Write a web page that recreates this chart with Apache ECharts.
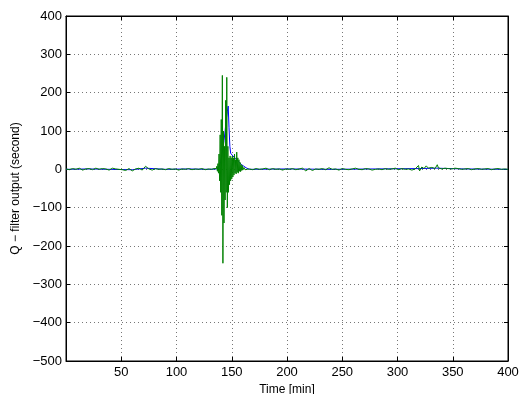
<!DOCTYPE html>
<html>
<head>
<meta charset="utf-8">
<script src="https://cdn.jsdelivr.net/npm/echarts@6/dist/echarts.min.js"></script>
<style>
  html, body { margin: 0; padding: 0; background: #fff; }
  #chart { width: 519px; height: 394px; }
</style>
</head>
<body>
<div id="chart"></div>
<script>
// Q filter output, [time (min), value (s)]
const bluePoints = [
  [0, 0], [20, 1], [40, 0], [60, -1], [72, 3], [90, 0], [110, 1], [130, 0], [136, 1],
  [138, 4], [139, 10], [140, 20], [141, 35], [142, 55], [143, 75], [144, 100],
  [145, 130], [146, 150], [146.8, 165], [147.5, 110], [148.3, 60], [149, 42],
  [150, 38], [151, 35], [152, 32], [153, 30], [154, 27], [155, 24], [156, 21],
  [157, 18], [158, 15], [159, 12], [160, 10], [161, 8], [162, 6], [163, 4],
  [164, 2], [166, 0],
  [200, 1], [240, 0], [280, 1], [320, 2], [335, 3], [360, 1], [400, 0]
];

const greenPoints = [
  [0, 1], [3, -1], [6, 2], [9, 0], [12, 3], [15, -2], [18, 1], [21, 2], [24, -1],
  [27, 3], [30, 0], [33, 2], [36, 1], [39, -2], [42, 3], [45, 1], [48, 0], [51, -1],
  [54, -3], [57, 2], [60, -4], [63, 1], [66, 3], [69, -2], [72, 8], [75, 1], [78, -2],
  [81, 2], [84, 0], [87, 1], [90, -1], [93, 2], [96, 0], [99, 1], [102, -2], [105, 1],
  [108, 0], [111, 2], [114, -1], [117, 1], [120, 0], [123, 2], [126, -1], [129, 1],
  [132, 0], [134, 2], [135, 1],
  [136, 2], [136.5, 8], [137, -5], [137.5, 15], [138, -10], [138.5, 40], [139, -30],
  [139.5, 90], [140, -60], [140.5, 130], [141, -120], [141.5, 245], [142, -245],
  [142.5, 100], [143, -140], [143.5, 60], [144, -80], [144.5, 180], [145, -60],
  [145.5, 240], [146, -100], [146.5, 60], [147, -60], [147.5, 30], [148, -40],
  [148.5, 35], [149, -30], [149.5, 30], [150, -25], [150.5, 35], [151, -20],
  [151.5, 30], [152, -15], [152.5, 40], [153, -10], [153.5, 25], [154, -12],
  [154.5, 45], [155, -8], [155.5, 30], [156, -10], [156.5, 25], [157, -5],
  [157.5, 18], [158, -6], [158.5, 12], [159, -3], [159.5, 10], [160, -2], [161, 5],
  [162, -1], [163, 3], [164, 0], [165, 1],
  [166, 1], [169, -1], [172, 2], [175, 0], [178, 1], [181, 3], [184, -1], [187, 2],
  [190, 0], [193, 1], [196, -2], [199, 1], [202, 0], [205, 2], [208, -1], [211, 1],
  [214, 3], [217, -4], [220, 2], [223, -3], [226, 1], [229, 0], [232, 2], [235, -1],
  [238, 4], [241, 0], [244, 1], [247, -2], [250, 2], [253, 0], [256, -1], [259, 1],
  [262, 3], [265, 0], [268, -1], [271, 2], [274, 1], [277, -2], [280, 0], [283, 1],
  [286, -1], [289, 2], [292, 0], [295, 1], [298, 3], [301, -1], [304, 2], [307, 0],
  [310, 1], [313, -2], [316, 1], [319, 10], [320, -4], [322, 6], [324, 2], [326, 9],
  [328, 3], [331, 5], [334, 2], [336, 12], [337, 4], [338, 9], [340, 1], [343, 3],
  [346, 2], [349, 1], [352, 3], [355, 2], [358, 0], [361, 1], [364, 2], [367, -1],
  [370, 1], [373, 2], [376, 0], [379, 1], [382, 2], [385, -1], [388, 1], [391, 2],
  [394, 0], [397, 1], [400, 0]
];

const xMin = 0, xMax = 400, xStep = 50;
const yMin = -500, yMax = 400, yStep = 100;

const font = '"Liberation Sans", Arial, sans-serif';
const dotted = { color: '#777', width: 1, type: [1, 3] };

const chart = echarts.init(document.getElementById('chart'));

chart.setOption({
  animation: false,
  grid: { left: 66, right: 11, top: 16, bottom: 33, show: true, borderColor: '#000', borderWidth: 1,
    containLabel: false, outerBoundsMode: 'none' },
  xAxis: [{
    type: 'value', min: xMin, max: xMax, interval: xStep,
    name: 'Time [min]', nameLocation: 'middle', nameGap: 21,
    nameTextStyle: { fontFamily: font, fontSize: 12, color: '#000' },
    axisLine: { show: true, onZero: false, lineStyle: { color: '#000' } },
    axisTick: { show: true, inside: true, length: 4, lineStyle: { color: '#000' } },
    axisLabel: { fontFamily: font, fontSize: 13, color: '#000', margin: 5,
      formatter: v => v === xMin ? '' : String(v) },
    splitLine: { show: true, lineStyle: dotted }
  }, {
    type: 'value', position: 'top', min: xMin, max: xMax, interval: xStep,
    axisLine: { show: true, onZero: false, lineStyle: { color: '#000' } },
    axisTick: { show: true, inside: true, length: 4, lineStyle: { color: '#000' } },
    axisLabel: { show: false }, splitLine: { show: false }
  }],
  yAxis: [{
    type: 'value', min: yMin, max: yMax, interval: yStep,
    name: 'Q \u2212 filter output (second)', nameLocation: 'middle', nameGap: 44,
    nameTextStyle: { fontFamily: font, fontSize: 12, color: '#000' },
    axisLine: { show: true, onZero: false, lineStyle: { color: '#000' } },
    axisTick: { show: true, inside: true, length: 4, lineStyle: { color: '#000' } },
    axisLabel: { fontFamily: font, fontSize: 13, color: '#000', margin: 4,
      formatter: v => v < 0 ? '\u2212' + Math.abs(v) : String(v) },
    splitLine: { show: true, lineStyle: dotted }
  }, {
    type: 'value', position: 'right', min: yMin, max: yMax, interval: yStep,
    axisLine: { show: true, onZero: false, lineStyle: { color: '#000' } },
    axisTick: { show: true, inside: true, length: 4, lineStyle: { color: '#000' } },
    axisLabel: { show: false }, splitLine: { show: false }
  }],
  series: [{
    type: 'line', name: 'blue', data: bluePoints, showSymbol: false,
    lineStyle: { color: '#0000ff', width: 1 }, z: 2
  }, {
    type: 'line', name: 'green', data: greenPoints, showSymbol: false,
    lineStyle: { color: '#008000', width: 1 }, z: 3
  }]
});
</script>
</body>
</html>
